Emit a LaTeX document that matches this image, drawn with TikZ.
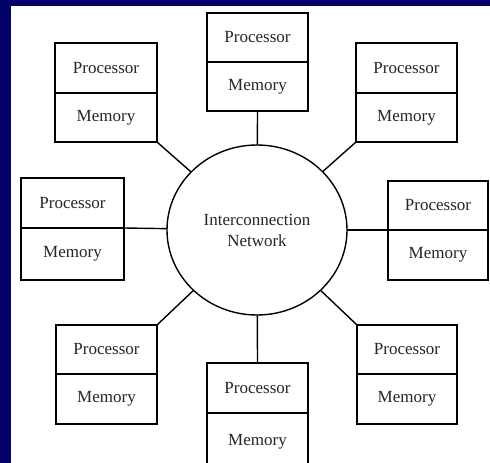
\documentclass[tikz,border=0pt]{standalone}
\usepackage{fontspec}
\setmainfont{Liberation Serif}
\usetikzlibrary{shapes.geometric}
\definecolor{navy}{RGB}{2,2,104}
\tikzset{
  cell/.style={draw=black, line width=1.4pt, fill=white, inner sep=0pt, outer sep=0pt,
    font=\fontsize{17}{20}\selectfont, text=black!85},
  link/.style={draw=black, line width=1.4pt},
  net/.style={ellipse, draw=black, line width=1.4pt, inner sep=0pt, outer sep=0pt,
    minimum width=180pt, minimum height=170pt, align=center,
    font=\fontsize{17}{21}\selectfont, text=black!85}
}
\begin{document}
\begin{tikzpicture}[x=1pt,y=-1pt]
\useasboundingbox (0,0) rectangle (490,463);
\clip (0,0) rectangle (490,463);
\fill[navy] (0,0) rectangle (490,463);
\fill[white] (11,6) rectangle (490,463);

\node[net] (net) at (257,230) {Interconnection\\Network};

% top-left
\node[cell, minimum width=102pt, minimum height=50pt] (tlp) at (106,68) {Processor};
\node[cell, minimum width=102pt, minimum height=49pt] (tlm) at (106,117.5) {Memory};
% top
\node[cell, minimum width=101pt, minimum height=49pt] (tp) at (257.5,37.5) {Processor};
\node[cell, minimum width=101pt, minimum height=49pt] (tm) at (257.5,86.5) {Memory};
% top-right
\node[cell, minimum width=101pt, minimum height=50pt] (trp) at (406.5,68) {Processor};
\node[cell, minimum width=101pt, minimum height=49pt] (trm) at (406.5,117.5) {Memory};
% left
\node[cell, minimum width=103pt, minimum height=50pt] (lp) at (72.5,203) {Processor};
\node[cell, minimum width=103pt, minimum height=52pt] (lm) at (72.5,254) {Memory};
% right
\node[cell, minimum width=100pt, minimum height=49pt] (rp) at (438,205.5) {Processor};
\node[cell, minimum width=100pt, minimum height=50pt] (rm) at (438,255) {Memory};
% bottom-left
\node[cell, minimum width=101pt, minimum height=49pt] (blp) at (106.5,349.5) {Processor};
\node[cell, minimum width=101pt, minimum height=50pt] (blm) at (106.5,399) {Memory};
% bottom
\node[cell, minimum width=101pt, minimum height=50pt] (bp) at (257.5,388) {Processor};
\node[cell, minimum width=101pt, minimum height=57pt] (bm) at (257.5,441.5) {Memory};
% bottom-right
\node[cell, minimum width=100pt, minimum height=49pt] (brp) at (407,349.5) {Processor};
\node[cell, minimum width=100pt, minimum height=50pt] (brm) at (407,399) {Memory};

\draw[link] (tlm.south east) -- (net);
\draw[link] (tm.south) -- (net);
\draw[link] (trm.south west) -- (net);
\draw[link] (lp.south east) -- (net);
\draw[link] (rp.south west) -- (net);
\draw[link] (blp.north east) -- (net);
\draw[link] (bp.north) -- (net);
\draw[link] (brp.north west) -- (net);
\end{tikzpicture}
\end{document}
